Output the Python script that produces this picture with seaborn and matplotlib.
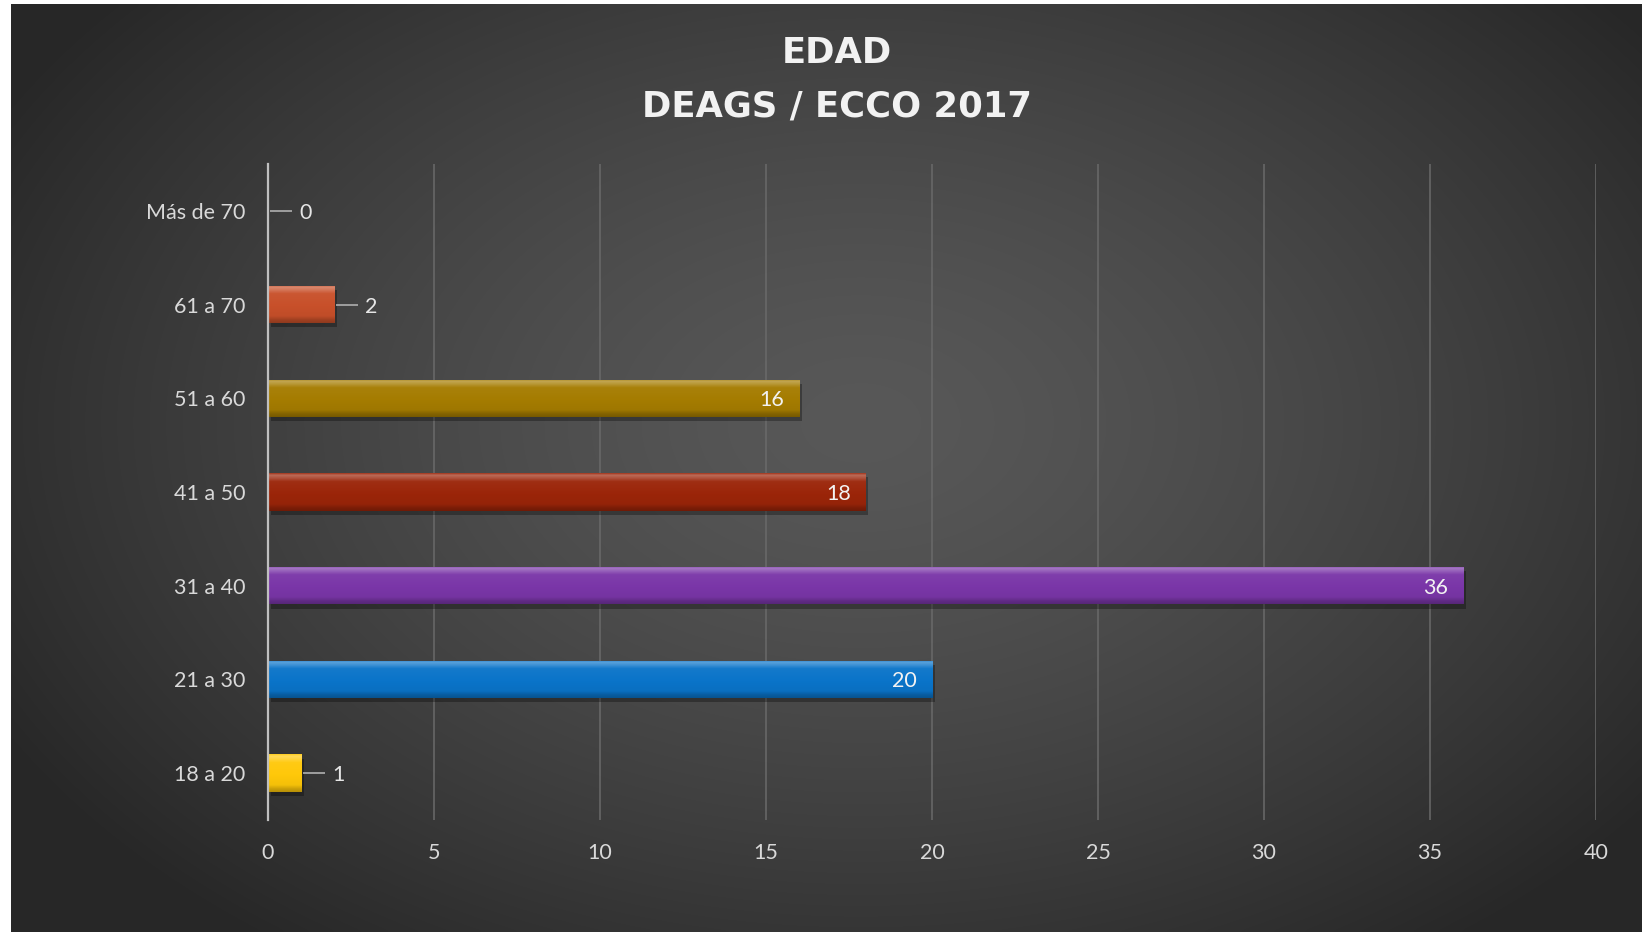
import numpy as np
import pandas as pd
import matplotlib
matplotlib.use("Agg")
import matplotlib.pyplot as plt
import matplotlib.patheffects as pe
from matplotlib.colors import to_rgb
import seaborn as sns

# Age groups (top to bottom) and number of people in each
categories = ["Más de 70", "61 a 70", "51 a 60", "41 a 50", "31 a 40", "21 a 30", "18 a 20"]
counts = [0, 2, 16, 18, 36, 20, 1]
bar_colors = ["#808080", "#C8502A", "#A57C00", "#9B2509", "#7A36A8", "#0A74C9", "#FFC80A"]
x_ticks = [0, 5, 10, 15, 20, 25, 30, 35, 40]
title_lines = ["EDAD", "DEAGS / ECCO 2017"]

W, H = 1642, 932

sns.set_theme(style="dark")
plt.rcParams["font.family"] = ["Lato", "DejaVu Sans"]

fig = plt.figure(figsize=(W / 100, H / 100), dpi=100, facecolor="white")

# Dark radial-gradient backdrop
bg = fig.add_axes([11 / W, 0, 1 - 11 / W, 1 - 4 / H])
gh, gw = 300, 540
yy, xx = np.mgrid[0:gh, 0:gw]
d = np.sqrt(((xx - 0.52 * gw) / (0.60 * gw)) ** 2 + ((yy - 0.45 * gh) / (0.70 * gh)) ** 2)
level = 0.345 - 0.19 * np.clip(d, 0, 1) ** 1.4
bg.imshow(np.dstack([level] * 3), aspect="auto", extent=[0, 1, 0, 1], interpolation="bicubic")
bg.axis("off")

# Plot area
ax = fig.add_axes([268 / W, 1 - 820 / H, (1596 - 268) / W, (820 - 164) / H])
ax.patch.set_alpha(0)

df = pd.DataFrame({"edad": categories, "n": counts})
sns.barplot(data=df, x="n", y="edad", hue="edad", order=categories, hue_order=categories,
            palette=bar_colors, saturation=1, width=0.4, legend=False, ax=ax,
            edgecolor="none", linewidth=0)

# Bevelled look: vertical shading clipped to each bar plus a soft shadow
def mix(c, other, t):
    c = np.array(to_rgb(c)); o = np.array(to_rgb(other))
    return c * (1 - t) + o * t

def shade(t):
    # lightness offset across the bar height (t=0 top, t=1 bottom)
    stops_t = [0.0, 0.05, 0.12, 0.22, 0.55, 0.82, 0.92, 1.0]
    stops_v = [0.10, 0.32, 0.22, 0.04, 0.0, -0.04, -0.20, -0.28]
    return np.interp(t, stops_t, stops_v)

for patch, col in zip(ax.patches, bar_colors):
    w = patch.get_width()
    if w <= 0:
        patch.set_visible(False)
        continue
    patch.set_path_effects([pe.SimplePatchShadow(offset=(2, -3), alpha=0.30, shadow_rgbFace="black"),
                            pe.Normal()])
    n = 60
    prof = []
    for i in range(n):
        s = shade(i / (n - 1))
        prof.append(mix(col, "white", s) if s >= 0 else mix(col, "black", -s))
    img = np.array(prof)[:, None, :]
    y0 = patch.get_y()
    y1 = y0 + patch.get_height()
    x0 = patch.get_x()
    im = ax.imshow(img, extent=(x0, x0 + w, y1, y0), aspect="auto", origin="upper",
                   interpolation="bilinear", zorder=patch.get_zorder() + 0.1)
    im.set_clip_path(patch)

ax.set_xlim(0, 40)
ax.set_ylim(len(categories) - 0.5, -0.5)

# Value labels: inside the bar end for long bars, with a leader line for short ones
label_color = "#e6e6e6"
for i, v in enumerate(counts):
    if v >= 5:
        ax.annotate(str(v), xy=(v, i), xytext=(-15, 0), textcoords="offset pixels",
                    ha="right", va="center_baseline", color="#f2f2f2", fontsize=15.5, zorder=5)
    else:
        ax.annotate(str(v), xy=(v, i), xytext=(31, 0), textcoords="offset pixels",
                    ha="left", va="center_baseline", color=label_color, fontsize=15.5, zorder=5)
        x_disp, y_disp = ax.transData.transform((v, i))
        inv = ax.transData.inverted()
        xa, _ = inv.transform((x_disp + 2, y_disp))
        xb, _ = inv.transform((x_disp + 24, y_disp))
        ax.plot([xa, xb], [i, i], color="#a6a6a6", lw=1.3, zorder=5, solid_capstyle="butt")

# Axes styling
ax.set_xticks(x_ticks)
ax.set_xticklabels([str(t) for t in x_ticks])
ax.grid(axis="x", color="#6a6a6a", linewidth=1.1)
ax.grid(axis="y", visible=False)
ax.set_axisbelow(True)
for s in ["top", "right", "bottom"]:
    ax.spines[s].set_visible(False)
ax.spines["left"].set_color("#bfbfbf")
ax.spines["left"].set_linewidth(1.6)
ax.spines["left"].set_zorder(6)
ax.tick_params(axis="x", length=0, pad=16.5, labelsize=15.5, labelcolor="#d9d9d9")
ax.tick_params(axis="y", length=0, pad=16.5, labelsize=15.5, labelcolor="#d9d9d9")
for lab in ax.get_yticklabels():
    lab.set_verticalalignment("center_baseline")
ax.set_xlabel("")
ax.set_ylabel("")

# Title
title_font = ["DejaVu Sans"]
fig.text(837 / W, 1 - 53 / H, title_lines[0], ha="center", va="center", family=title_font,
         fontsize=25.5, fontweight="bold", color="#f2f2f2")
fig.text(837 / W, 1 - 106 / H, title_lines[1], ha="center", va="center", family=title_font,
         fontsize=25.5, fontweight="bold", color="#f2f2f2")

fig.savefig("out.png", dpi=100, facecolor="white")
